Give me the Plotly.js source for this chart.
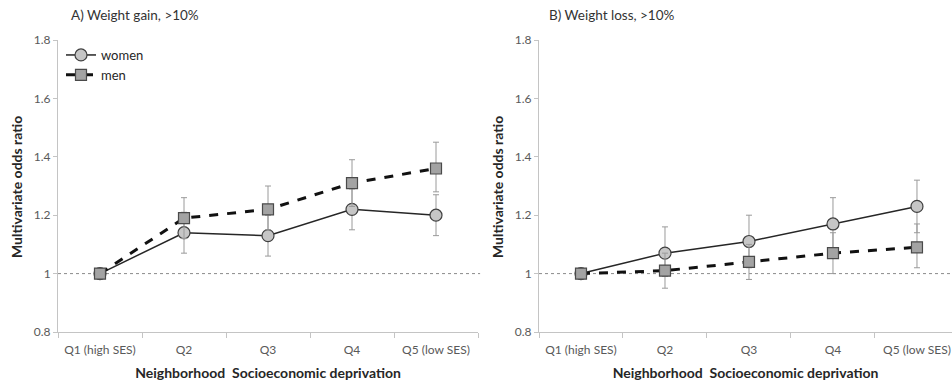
<!DOCTYPE html>
<html>
<head>
<meta charset="utf-8">
<script src="https://cdn.plot.ly/plotly-3.0.1.min.js"></script>
<style>html,body{margin:0;padding:0;background:#fff;}#chart{width:952px;height:386px;}</style>
</head>
<body>
<div id="chart"></div>
<script>
const categories = ["Q1 (high SES)", "Q2", "Q3", "Q4", "Q5 (low SES)"];
const seriesNames = ["women", "men"];
const panelTitles = ["A) Weight gain, >10%", "B) Weight loss, >10%"];
const yTickVals = [0.8, 1, 1.2, 1.4, 1.6, 1.8];
const yTickText = ["0.8", "1", "1.2", "1.4", "1.6", "1.8"];

const gainWomen   = [1.00, 1.14, 1.13, 1.22, 1.20];
const gainWomenLo = [1.00, 1.07, 1.06, 1.15, 1.13];
const gainWomenHi = [1.00, 1.21, 1.20, 1.29, 1.27];
const gainMen     = [1.00, 1.19, 1.22, 1.31, 1.36];
const gainMenLo   = [1.00, 1.12, 1.15, 1.23, 1.28];
const gainMenHi   = [1.00, 1.26, 1.30, 1.39, 1.45];

const lossWomen   = [1.00, 1.07, 1.11, 1.17, 1.23];
const lossWomenLo = [1.00, 0.99, 1.02, 1.08, 1.14];
const lossWomenHi = [1.00, 1.16, 1.20, 1.26, 1.32];
const lossMen     = [1.00, 1.01, 1.04, 1.07, 1.09];
const lossMenLo   = [1.00, 0.95, 0.98, 1.00, 1.02];
const lossMenHi   = [1.00, 1.07, 1.10, 1.14, 1.17];

const FONT = "Lato, 'Open Sans', sans-serif";
const W = 952, H = 386;
const px = v => v / W, py = v => (H - v) / H;

function errs(val, lo, hi) {
  return {
    type: "data", symmetric: false,
    array: hi.map((h, i) => +(h - val[i]).toFixed(4)),
    arrayminus: lo.map((l, i) => +(val[i] - l).toFixed(4)),
    color: "#9a9a9a", thickness: 1, width: 3
  };
}

function womenTrace(val, lo, hi, xa, ya, show) {
  return {
    type: "scatter", mode: "lines+markers", name: seriesNames[0],
    x: categories, y: val, xaxis: xa, yaxis: ya, showlegend: show,
    line: {color: "#262626", width: 1.5},
    marker: {symbol: "circle", size: 12, color: "#c6c6c6", line: {color: "#404040", width: 1.2}},
    error_y: errs(val, lo, hi)
  };
}
function menTrace(val, lo, hi, xa, ya, show) {
  return {
    type: "scatter", mode: "lines+markers", name: seriesNames[1],
    x: categories, y: val, xaxis: xa, yaxis: ya, showlegend: show,
    line: {color: "#111111", width: 3, dash: "dash"},
    marker: {symbol: "square", size: 11, color: "#a3a3a3", line: {color: "#4a4a4a", width: 1.2}},
    error_y: errs(val, lo, hi)
  };
}

const data = [
  womenTrace(gainWomen, gainWomenLo, gainWomenHi, "x", "y", true),
  menTrace(gainMen, gainMenLo, gainMenHi, "x", "y", true),
  womenTrace(lossWomen, lossWomenLo, lossWomenHi, "x2", "y2", false),
  menTrace(lossMen, lossMenLo, lossMenHi, "x2", "y2", false)
];

const yDomain = [py(332), py(40)];
function xAxis(domain, range, anchor) {
  return {
    domain: domain, range: range, anchor: anchor, type: "category",
    categoryorder: "array", categoryarray: categories,
    showline: true, linecolor: "#c4c4c4", linewidth: 1,
    ticks: "outside", tickson: "boundaries", ticklen: 5, tickcolor: "#c4c4c4",
    ticklabelstandoff: 7,
    showgrid: false, zeroline: false,
    tickfont: {family: FONT, size: 12, color: "#595959"},
    title: {text: "<b>Neighborhood  Socioeconomic deprivation</b>", font: {family: FONT, size: 14, color: "#262626"}, standoff: 11},
    fixedrange: true
  };
}
function yAxis(anchor) {
  return {
    domain: yDomain, range: [0.8, 1.8], anchor: anchor,
    tickvals: yTickVals, ticktext: yTickText,
    showline: true, linecolor: "#c4c4c4", linewidth: 1,
    ticks: "outside", ticklen: 4, tickcolor: "#c4c4c4",
    showgrid: false, zeroline: false,
    tickfont: {family: FONT, size: 12, color: "#595959"},
    fixedrange: true
  };
}

const layout = {
  width: W, height: H,
  margin: {l: 0, r: 0, t: 0, b: 0},
  paper_bgcolor: "#ffffff", plot_bgcolor: "#ffffff",
  font: {family: FONT},
  xaxis: xAxis([px(58), px(478)], [-0.5, 4.5], "y"),
  yaxis: yAxis("x"),
  xaxis2: xAxis([px(539), 1], [-0.5, 4.417], "y2"),
  yaxis2: yAxis("x2"),
  showlegend: true,
  legend: {
    x: px(61), y: py(40), xanchor: "left", yanchor: "top",
    bgcolor: "rgba(0,0,0,0)", font: {family: FONT, size: 13, color: "#262626"},
    tracegroupgap: 0, itemwidth: 30
  },
  shapes: [
    {type: "line", xref: "x domain", yref: "y", x0: 0, x1: 1.005, y0: 1, y1: 1, line: {color: "#8a8a8a", width: 1, dash: "dot"}, layer: "below"},
    {type: "line", xref: "x2 domain", yref: "y2", x0: 0, x1: 1, y0: 1, y1: 1, line: {color: "#8a8a8a", width: 1, dash: "dot"}, layer: "below"}
  ],
  annotations: [
    {text: panelTitles[0], xref: "paper", yref: "paper", x: px(69), y: py(15), xanchor: "left", yanchor: "middle", showarrow: false, font: {family: FONT, size: 13.5, color: "#333"}},
    {text: panelTitles[1], xref: "paper", yref: "paper", x: px(547), y: py(15), xanchor: "left", yanchor: "middle", showarrow: false, font: {family: FONT, size: 13.5, color: "#333"}},
    {text: "<b>Multivariate odds ratio</b>", xref: "paper", yref: "paper", x: px(17), y: py(187), xanchor: "center", yanchor: "middle", textangle: -90, showarrow: false, font: {family: FONT, size: 14, color: "#262626"}},
    {text: "<b>Multivariate odds ratio</b>", xref: "paper", yref: "paper", x: px(498), y: py(187), xanchor: "center", yanchor: "middle", textangle: -90, showarrow: false, font: {family: FONT, size: 14, color: "#262626"}}
  ]
};

Plotly.newPlot("chart", data, layout, {displayModeBar: false, staticPlot: true});
</script>
</body>
</html>
